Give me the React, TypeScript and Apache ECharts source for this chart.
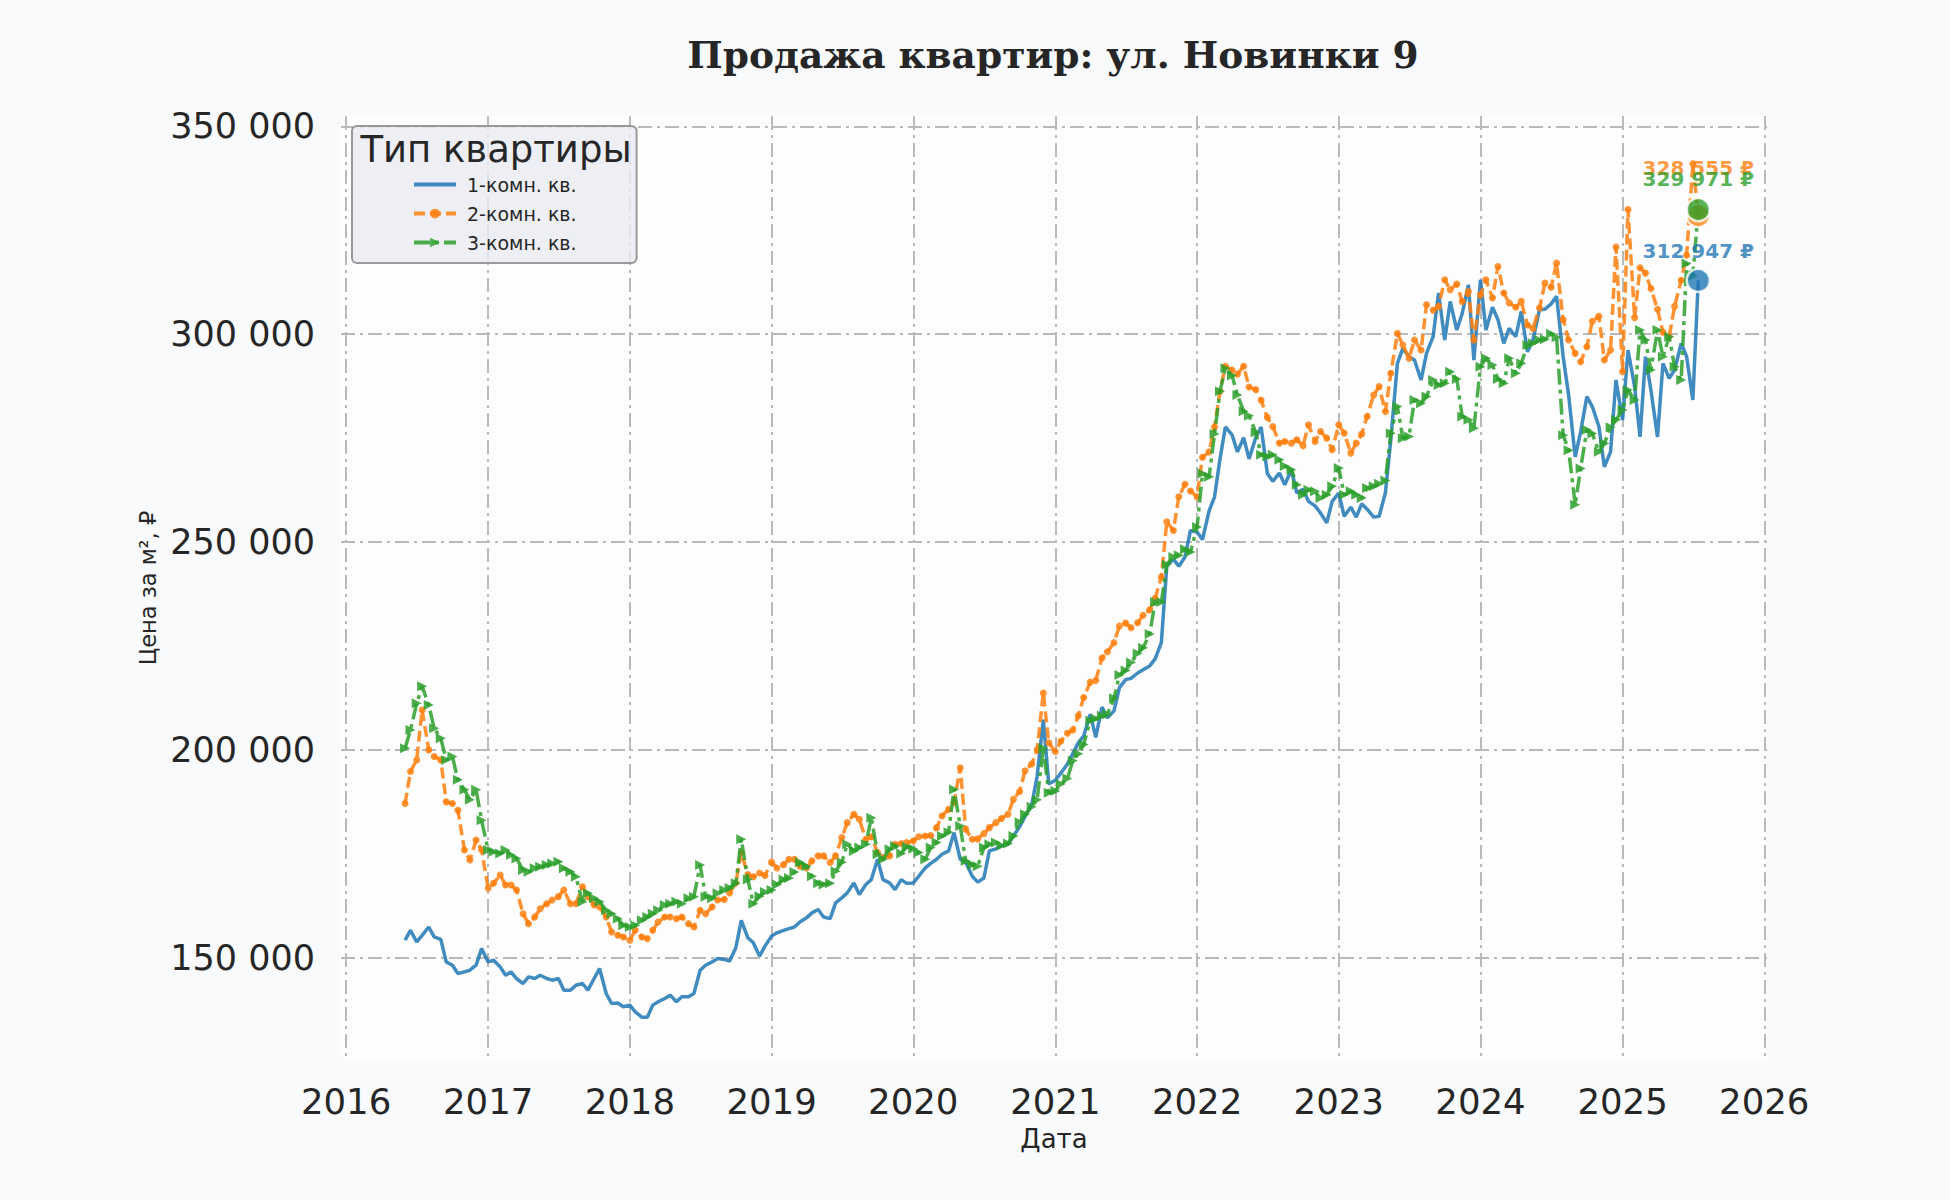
import React, { useEffect, useRef } from 'react';
import * as echarts from 'echarts';

// semi-monthly readings (1st and 15th of each month) from 2016-06-01, thousand ₽ per m²
const START_YEAR = 2016;
const START_MONTH = 5; // June, 0-based

const oneRoom = [
  // 2016
  154.2, 156.6, 153.8, 155.4, 157.4, 155.0, 154.4, 149.0, 148.2, 146.2, 146.6, 147.0, 148.2, 152.2,
  // 2017
  149.0, 149.4, 147.8, 145.8, 146.6, 145.0, 143.8, 145.4, 145.0, 145.8, 145.0, 144.6,
  145.0, 142.2, 142.2, 143.4, 143.8, 142.2, 145.0, 147.4, 141.4, 139.0, 139.1, 138.2,
  // 2018
  138.6, 137.0, 135.7, 135.7, 138.6, 139.4, 140.2, 141.0, 139.4, 140.6, 140.6, 141.4,
  147.0, 148.2, 149.0, 149.8, 149.6, 149.2, 152.4, 159.0, 154.8, 153.6, 150.4, 152.8,
  // 2019
  155.2, 156.0, 156.6, 157.0, 157.4, 158.6, 159.6, 160.8, 161.6, 159.8, 159.4, 163.2,
  164.4, 165.6, 168.0, 165.2, 167.6, 168.8, 173.7, 168.8, 168.0, 166.4, 168.8, 167.9,
  // 2020
  168.0, 169.6, 171.6, 172.7, 173.7, 174.9, 175.7, 180.1, 173.7, 173.0, 169.6, 168.2,
  169.2, 175.7, 176.2, 176.9, 177.3, 179.3, 181.5, 184.0, 186.7, 193.6, 207.3, 191.8,
  // 2021
  192.7, 194.4, 196.6, 199.1, 201.7, 203.4, 208.6, 203.0, 210.3, 207.7, 209.4, 215.0,
  216.9, 217.2, 218.5, 219.3, 220.2, 221.9, 225.8, 244.2, 245.9, 244.2, 246.4, 252.8,
  // 2022
  252.4, 250.6, 257.5, 260.9, 270.0, 277.7, 275.8, 271.7, 275.1, 270.0, 275.1, 277.7,
  266.5, 264.6, 266.6, 263.8, 267.4, 261.8, 262.7, 259.8, 258.7, 257.0, 254.6, 259.8,
  // 2023
  261.8, 256.2, 258.4, 256.0, 259.2, 257.9, 256.0, 256.2, 261.8, 274.6, 293.0, 296.6,
  294.6, 293.8, 289.0, 295.4, 299.4, 309.9, 298.6, 307.9, 301.0, 305.0, 311.9, 293.8,
  // 2024
  313.1, 301.0, 306.5, 303.5, 297.8, 301.4, 299.4, 305.5, 295.8, 298.6, 305.9, 306.0,
  307.3, 309.1, 294.6, 285.4, 270.5, 276.5, 285.0, 282.6, 277.8, 268.1, 271.7, 289.0,
  // 2025
  279.4, 296.2, 287.4, 275.3, 294.6, 286.6, 275.3, 293.0, 289.4, 291.4, 297.8, 294.6, 284.2, 312.947,
];

const twoRoom = [
  // 2016
  187.1, 194.8, 197.6, 209.6, 200.0, 198.4, 197.6, 187.5, 187.1, 185.5, 175.9, 173.5, 178.3, 176.0,
  // 2017
  166.7, 167.9, 169.9, 167.5, 167.5, 166.3, 160.6, 158.2, 159.8, 161.8, 163.0, 163.9,
  164.7, 166.3, 163.0, 163.0, 167.1, 164.7, 162.7, 162.2, 159.8, 156.2, 155.4, 155.0,
  // 2018
  154.2, 156.6, 155.0, 154.6, 156.6, 158.6, 159.8, 159.8, 159.4, 159.8, 158.2, 157.4,
  161.4, 160.6, 162.2, 163.9, 164.0, 165.6, 168.0, 175.3, 170.0, 169.5, 170.4, 169.8,
  // 2019
  173.0, 171.6, 172.4, 173.7, 173.7, 172.0, 171.6, 173.3, 174.5, 174.5, 172.9, 174.5,
  178.9, 182.5, 184.5, 183.3, 178.5, 179.1, 175.3, 174.1, 174.5, 177.3, 177.5, 177.7,
  // 2020
  178.1, 179.1, 179.3, 179.4, 181.3, 184.1, 185.7, 187.3, 195.7, 180.9, 178.5, 178.6,
  179.9, 181.3, 182.5, 183.5, 184.5, 188.1, 190.0, 195.0, 196.6, 200.0, 213.7, 201.7,
  // 2021
  199.6, 202.1, 204.0, 204.8, 208.2, 212.6, 216.3, 216.7, 222.1, 223.6, 225.8, 229.8,
  230.5, 229.4, 230.6, 232.4, 233.7, 236.5, 241.6, 254.9, 252.8, 260.9, 263.9, 262.3,
  // 2022
  260.9, 270.4, 271.7, 277.7, 286.3, 292.3, 291.4, 290.4, 292.3, 287.3, 286.7, 284.1,
  280.0, 277.8, 273.8, 274.2, 273.8, 274.6, 273.2, 278.2, 274.2, 276.6, 275.0, 272.2,
  // 2023
  278.2, 276.2, 271.4, 273.8, 276.0, 280.2, 285.4, 287.4, 281.4, 290.6, 300.2, 297.4,
  294.2, 298.6, 296.2, 307.1, 305.8, 306.7, 313.1, 310.7, 312.1, 307.9, 310.3, 298.6,
  // 2024
  309.5, 313.1, 308.7, 316.3, 309.9, 307.5, 306.5, 307.9, 302.2, 301.4, 306.3, 312.3,
  311.3, 317.1, 303.5, 298.6, 295.4, 293.4, 297.0, 303.1, 304.3, 293.8, 296.2, 321.0,
  // 2025
  291.0, 330.0, 304.0, 316.0, 314.7, 311.0, 306.0, 300.5, 299.4, 306.7, 313.0, 319.0, 341.0, 328.555,
];

const threeRoom = [
  // 2016
  200.4, 204.8, 211.2, 215.3, 210.8, 205.2, 202.8, 197.6, 198.4, 192.8, 190.4, 188.0, 190.4, 183.1,
  // 2017
  175.9, 175.5, 175.1, 175.9, 174.7, 173.9, 171.1, 170.7, 171.5, 171.9, 172.3, 172.7,
  173.1, 171.5, 170.7, 169.5, 163.5, 165.5, 164.3, 163.5, 161.4, 160.6, 159.4, 157.8,
  // 2018
  157.4, 157.8, 159.0, 159.8, 160.6, 161.4, 162.7, 163.0, 163.5, 163.0, 164.3, 164.7,
  172.3, 164.7, 164.3, 165.5, 166.3, 166.8, 167.9, 178.5, 168.8, 163.0, 164.8, 165.8,
  // 2019
  166.3, 167.6, 168.8, 169.2, 170.6, 173.0, 172.0, 169.6, 167.9, 167.6, 167.9, 170.8,
  173.0, 177.3, 175.7, 176.5, 177.3, 183.7, 174.9, 173.7, 176.1, 176.9, 175.1, 176.7,
  // 2020
  176.2, 175.3, 173.7, 176.5, 177.7, 179.3, 180.2, 190.5, 181.7, 173.3, 172.4, 172.0,
  176.5, 177.3, 177.7, 177.0, 177.5, 179.3, 182.6, 184.5, 186.3, 188.0, 200.4, 189.7,
  // 2021
  190.1, 191.8, 193.1, 197.4, 199.1, 201.3, 207.1, 207.5, 208.2, 208.6, 212.4, 218.0,
  219.1, 221.0, 223.2, 224.6, 227.9, 235.6, 235.6, 244.6, 246.4, 246.8, 248.3, 247.6,
  // 2022
  253.6, 266.5, 265.7, 276.0, 286.3, 291.8, 290.1, 285.4, 281.5, 280.4, 276.4, 271.0,
  270.6, 271.0, 269.8, 268.3, 267.4, 263.8, 261.4, 262.6, 262.2, 260.6, 261.4, 263.4,
  // 2023
  267.8, 261.4, 262.2, 261.4, 260.6, 263.0, 263.4, 264.0, 264.8, 276.2, 282.6, 275.0,
  275.4, 284.2, 283.4, 285.0, 289.0, 287.8, 288.2, 291.0, 289.2, 280.2, 279.4, 277.4,
  // 2024
  292.2, 294.2, 292.6, 289.2, 288.2, 294.2, 290.6, 293.0, 297.4, 297.8, 298.6, 298.8,
  300.1, 299.3, 275.7, 272.1, 259.0, 267.7, 277.0, 276.1, 271.7, 273.7, 277.6, 279.4,
  // 2025
  281.8, 286.6, 284.2, 301.0, 298.6, 291.4, 301.0, 294.6, 299.4, 292.2, 289.0, 317.0, 314.0, 329.971,
];

const seriesNames = ['1-комн. кв.', '2-комн. кв.', '3-комн. кв.'];
const colors = ['#1f77b4', '#ff7f0e', '#2ca02c'];
const yTicks = [150, 200, 250, 300, 350];
const xYears = [2016, 2017, 2018, 2019, 2020, 2021, 2022, 2023, 2024, 2025, 2026];

const FONT = 'DejaVu Sans';
const INK = '#262626';

function dateAt(i: number): number {
  return Date.UTC(START_YEAR, START_MONTH + Math.floor(i / 2), i % 2 ? 15 : 1);
}

function spaced(n: number): string {
  return String(n).replace(/\B(?=(\d{3})+(?!\d))/g, ' ');
}

const gridLine = { show: true, lineStyle: { color: '#bababa', width: 2, type: [14, 5, 3, 5] } };

export default function App() {
  const chartRef = useRef<HTMLDivElement | null>(null);

  useEffect(() => {
    if (!chartRef.current) return;
    const inst = echarts.init(chartRef.current, undefined, { renderer: 'svg' });

    const all = [oneRoom, twoRoom, threeRoom];
    const lineData = all.map((arr) => arr.map((v, i) => [dateAt(i), v]));
    const xTicks = xYears.map((y) => Date.UTC(y, 0, 1));
    const labelGap = [7, 25, 8];

    const lines = [
      {
        name: seriesNames[0],
        type: 'line',
        data: lineData[0],
        symbol: 'none',
        lineStyle: { width: 3.5, color: colors[0], opacity: 0.85 },
        itemStyle: { color: colors[0] },
        z: 2,
      },
      {
        name: seriesNames[1],
        type: 'line',
        data: lineData[1],
        symbol: 'circle',
        symbolSize: 7,
        showAllSymbol: true,
        lineStyle: { width: 3.5, color: colors[1], opacity: 0.85, type: [11, 5] },
        itemStyle: { color: colors[1], opacity: 0.85 },
        z: 3,
      },
      {
        name: seriesNames[2],
        type: 'line',
        data: lineData[2],
        symbol: 'triangle',
        symbolRotate: -90,
        symbolSize: 10,
        showAllSymbol: true,
        lineStyle: { width: 3.5, color: colors[2], opacity: 0.85, type: [16, 5, 4, 5] },
        itemStyle: { color: colors[2], opacity: 0.85 },
        z: 4,
      },
    ];

    const ends = all.map((arr, k) => {
      const i = arr.length - 1;
      return {
        type: 'scatter',
        data: [[dateAt(i), arr[i]]],
        symbolSize: 23,
        itemStyle: { color: colors[k], borderColor: '#ffffff', borderWidth: 2.5 },
        label: {
          show: true,
          position: 'top',
          distance: labelGap[k],
          formatter: () => `${spaced(Math.round(arr[i] * 1000))} ₽`,
          color: colors[k],
          fontFamily: FONT,
          fontWeight: 'bold',
          fontSize: 20,
        },
        z: 10,
      };
    });

    inst.setOption({
      animation: false,
      backgroundColor: '#f8fafc',
      grid: { left: 341, top: 116, width: 1426, height: 944, show: true, backgroundColor: '#fdfdfe', borderWidth: 0 },
      legend: {
        orient: 'vertical',
        left: 352,
        top: 126,
        padding: [49, 60, 11, 60],
        itemWidth: 42,
        itemHeight: 12,
        itemGap: 10,
        backgroundColor: 'rgba(234,234,242,0.8)',
        borderColor: '#999999',
        borderWidth: 2,
        borderRadius: 5,
        lineStyle: { width: 4 },
        textStyle: { fontSize: 19, color: INK, fontFamily: FONT, padding: [0, 0, 0, 6] },
        data: [
          { name: seriesNames[0], itemStyle: { opacity: 0 } },
          { name: seriesNames[1] },
          { name: seriesNames[2] },
        ],
      },
      graphic: [
        {
          type: 'text',
          x: 1053,
          y: 55,
          style: {
            text: 'Продажа квартир: ул. Новинки 9',
            textAlign: 'center',
            textVerticalAlign: 'middle',
            fontFamily: 'DejaVu Serif',
            fontWeight: 'bold',
            fontSize: 37.5,
            fill: INK,
          },
        },
        {
          type: 'text',
          x: 496,
          y: 149,
          z: 20,
          style: {
            text: 'Тип квартиры',
            textAlign: 'center',
            textVerticalAlign: 'middle',
            fontFamily: FONT,
            fontSize: 37,
            fill: INK,
          },
        },
      ],
      xAxis: {
        type: 'value',
        min: Date.UTC(2015, 11, 19),
        max: Date.UTC(2026, 0, 8),
        axisLine: { show: false },
        axisTick: { show: false, customValues: xTicks },
        axisLabel: {
          customValues: xTicks,
          formatter: (v: number) => String(new Date(v).getUTCFullYear()),
          fontSize: 35.5,
          margin: 23,
          color: INK,
          fontFamily: FONT,
        },
        splitLine: gridLine,
        name: 'Дата',
        nameLocation: 'middle',
        nameGap: 66,
        nameTextStyle: { fontSize: 26, color: INK, fontFamily: FONT },
      },
      yAxis: {
        type: 'value',
        min: 125.4,
        max: 352.5,
        axisLine: { show: false },
        axisTick: { show: false, customValues: yTicks },
        axisLabel: {
          customValues: yTicks,
          formatter: (v: number) => `${v} 000`,
          fontSize: 35,
          margin: 26,
          color: INK,
          fontFamily: FONT,
        },
        splitLine: gridLine,
        name: 'Цена за м², ₽',
        nameLocation: 'middle',
        nameGap: 177,
        nameTextStyle: { fontSize: 22.5, color: INK, fontFamily: FONT },
      },
      series: [...lines, ...ends],
    });

    return () => inst.dispose();
  }, []);

  return <div ref={chartRef} style={{ position: 'fixed', left: 0, top: 0, width: 1950, height: 1200 }} />;
}
